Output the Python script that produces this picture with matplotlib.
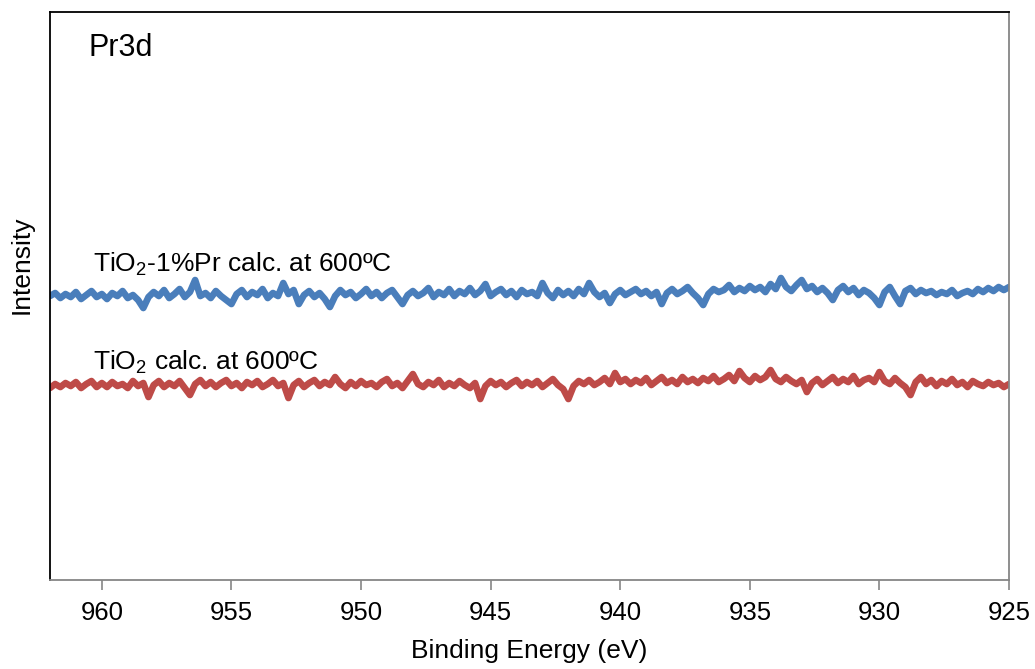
import numpy as np
import matplotlib
matplotlib.use("Agg")
import matplotlib.pyplot as plt

plt.rcParams['font.family'] = ['Liberation Sans', 'DejaVu Sans']
plt.rcParams['mathtext.default'] = 'regular'

# Binding energy axis, 962 -> 925 eV in 0.2 eV steps
binding_energy = np.linspace(962.0, 925.0, 186)

# Pr3d region, TiO2-1%Pr calcined at 600 C (a.u.)
pr_doped = [
    284, 287, 282, 286, 283, 288, 281, 285, 289, 283,
    286, 281, 287, 284, 289, 282, 285, 280, 272, 283,
    288, 284, 290, 282, 286, 291, 283, 288, 300, 284,
    287, 282, 289, 284, 280, 276, 286, 290, 283, 288,
    285, 291, 282, 287, 284, 297, 286, 290, 276, 285,
    289, 283, 287, 281, 273, 284, 290, 285, 288, 282,
    286, 291, 284, 288, 282, 287, 290, 283, 276, 285,
    289, 284, 287, 292, 283, 288, 285, 291, 284, 289,
    286, 292, 285, 289, 296, 284, 288, 291, 285, 289,
    283, 290, 286, 288, 284, 297, 287, 282, 290, 285,
    289, 284, 291, 286, 297, 288, 283, 287, 277, 286,
    290, 285, 288, 291, 286, 289, 284, 288, 276, 287,
    291, 286, 289, 293, 287, 282, 275, 286, 291, 288,
    290, 295, 288, 292, 289, 294, 290, 293, 288, 296,
    291, 302, 293, 289, 295, 300, 291, 294, 288, 292,
    287, 280, 290, 294, 288, 292, 285, 290, 287, 282,
    275, 288, 293, 284, 276, 289, 292, 286, 290, 287,
    289, 285, 288, 286, 290, 284, 287, 289, 286, 291,
    288, 292, 289, 293, 290, 293,
]

# Pr3d region, undoped TiO2 calcined at 600 C (a.u.)
undoped = [
    192, 196, 193, 197, 194, 198, 192, 196, 199, 193,
    197, 193, 198, 194, 196, 192, 199, 194, 197, 183,
    195, 199, 193, 197, 194, 199, 192, 185, 196, 200,
    194, 198, 193, 197, 200, 194, 197, 192, 198, 195,
    199, 193, 196, 200, 194, 197, 182, 195, 199, 193,
    197, 200, 194, 198, 195, 203, 196, 192, 198, 194,
    199, 195, 197, 193, 198, 201, 194, 197, 192, 199,
    206, 196, 193, 198, 195, 200, 193, 197, 194, 199,
    195, 192, 197, 181, 194, 199, 195, 198, 193, 197,
    200, 194, 198, 195, 199, 193, 197, 201, 195, 191,
    181, 194, 199, 196, 200, 195, 198, 202, 196, 207,
    198, 201, 196, 200, 197, 202, 195, 199, 203, 197,
    200, 196, 203, 198, 201, 197, 202, 199, 204, 198,
    201, 205, 199, 209, 202, 198, 204, 200, 203, 210,
    201, 198, 203, 199, 196, 200, 188, 197, 201, 195,
    199, 203, 197, 201, 198, 204, 196, 200, 202, 198,
    208, 199, 196, 202, 197, 193, 185, 198, 203, 196,
    200, 194, 199, 196, 201, 195, 198, 193, 199, 196,
    194, 198, 195, 197, 193, 196,
]

fig = plt.figure(figsize=(10.35, 6.69), dpi=100)
ax = fig.add_axes([0.0483, 0.133, 0.9266, 0.849])

ax.plot(binding_energy, pr_doped, color='#4a7ebb', lw=4.8,
        solid_joinstyle='round', solid_capstyle='round')
ax.plot(binding_energy, undoped, color='#be4b48', lw=4.8,
        solid_joinstyle='round', solid_capstyle='round')

ax.set_xlim(962, 925)
ax.set_ylim(0, 568)
ax.set_xticks([960, 955, 950, 945, 940, 935, 930, 925])
ax.set_yticks([])
ax.tick_params(axis='x', direction='out', length=7, width=1.2, color='#868686',
               labelsize=18.5, pad=8)

for side in ['top', 'left']:
    ax.spines[side].set_color('black')
    ax.spines[side].set_linewidth(1.3)
for side in ['bottom', 'right']:
    ax.spines[side].set_color('#868686')
    ax.spines[side].set_linewidth(1.3)

ax.set_xlabel('Binding Energy (eV)', fontsize=19, labelpad=10)
ax.set_ylabel('Intensity', fontsize=19)
ax.yaxis.set_label_coords(-0.0175, 0.555)

ax.text(0.040, 0.937, 'Pr3d', transform=ax.transAxes, fontsize=22, va='center')
ax.text(0.0448, 0.555, 'TiO$_2$-1%Pr calc. at 600ºC', transform=ax.transAxes,
        fontsize=19, va='center')
ax.text(0.0448, 0.384, 'TiO$_2$ calc. at 600ºC', transform=ax.transAxes,
        fontsize=19, va='center')

fig.savefig('out.png', dpi=100)
